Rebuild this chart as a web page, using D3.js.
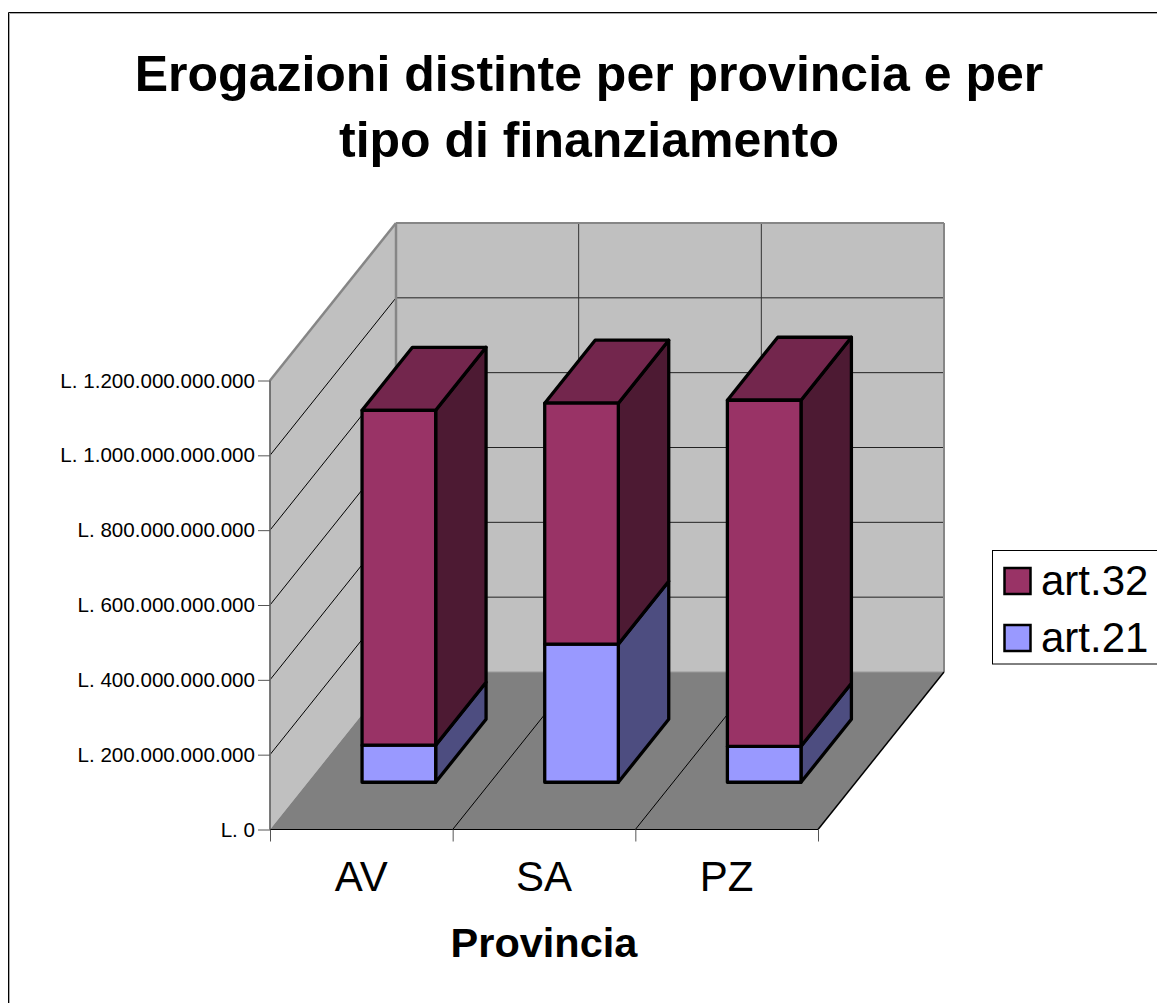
<!DOCTYPE html>
<html><head>
<meta charset="utf-8">
<title>Erogazioni distinte per provincia e per tipo di finanziamento</title>
<style>
  html, body { margin: 0; padding: 0; background: #fff; overflow: hidden; }
  svg { display: block; }
  text { font-family: "Liberation Sans", Arial, sans-serif; fill: #000; }
</style>
<script src="https://d3js.org/d3.v7.min.js"></script>
</head>
<body>
<div id="chart"></div>
<script>
const titleLines = ["Erogazioni distinte per provincia e per", "tipo di finanziamento"];
const xTitle = "Provincia";
const province = ["AV", "SA", "PZ"];
const art21 = [99e9, 369e9, 96e9];
const art32 = [895e9, 644e9, 925e9];
const yTicks = [0, 200e9, 400e9, 600e9, 800e9, 1000e9, 1200e9];
const legendItems = ["art.32", "art.21"];

const width = 1157, height = 1003;

const svg = d3.select("#chart").append("svg")
  .attr("width", width)
  .attr("height", height);

// frame, only top and left show in the picture
svg.append("path").attr("d", "M9.5,1003V13.5H1157").attr("fill", "none").attr("stroke", "#aaa").attr("stroke-width", 1);
svg.append("path").attr("d", "M8.5,1003V12.5H1157").attr("fill", "none").attr("stroke", "#000").attr("stroke-width", 1);

// front plane scales, depth is added on top by project()
const x = d3.scaleLinear().domain([0, province.length]).range([270, 818]);
const y = d3.scaleLinear().domain([0, 1200e9]).range([829.5, 380.5]);
const depthX = d3.scaleLinear().domain([0, 1]).range([0, 126]);
const depthY = d3.scaleLinear().domain([0, 1]).range([0, -157.5]);

function project(i, v, z) {
  return [x(i) + depthX(z), y(v) + depthY(z)];
}
function poly(g, pts, fill, stroke, sw) {
  g.append("polygon")
    .attr("points", pts.map(p => p.join(",")).join(" "))
    .attr("fill", fill)
    .attr("stroke", stroke || "none")
    .attr("stroke-width", sw || 0)
    .attr("stroke-linejoin", "round");
}

const n = province.length, yMax = yTicks[yTicks.length - 1];
const walls = svg.append("g");

// walls and floor
poly(walls, [project(0, 0, 0), project(0, yMax, 0), project(0, yMax, 1), project(0, 0, 1)], "#c0c0c0");
poly(walls, [project(0, 0, 1), project(0, yMax, 1), project(n, yMax, 1), project(n, 0, 1)], "#c0c0c0");
poly(walls, [project(0, 0, 0), project(0, 0, 1), project(n, 0, 1), project(n, 0, 0)], "#808080");

// gridlines
function seg(a, b, stroke, sw) {
  walls.append("line")
    .attr("x1", a[0]).attr("y1", a[1]).attr("x2", b[0]).attr("y2", b[1])
    .attr("stroke", stroke).attr("stroke-width", sw);
}
yTicks.slice(1, -1).forEach(t => {
  seg(project(0, t, 0), project(0, t, 1), "#000", 1);
  seg(project(0, t, 1), project(n, t, 1), "#222", 1);
});
d3.range(1, n).forEach(i => {
  seg(project(i, 0, 0), project(i, 0, 1), "#000", 1);
  seg(project(i, 0, 1), project(i, yMax, 1), "#333", 1);
});

// wall outlines
const grey = "#868686";
seg(project(0, yMax, 0), project(0, yMax, 1), grey, 2.5);
seg(project(0, yMax, 1), project(n, yMax, 1), grey, 2);
seg(project(0, 0, 1), project(0, yMax, 1), grey, 2.5);
seg(project(n, yMax, 1), project(n, 0, 1), grey, 2);
seg(project(0, 0, 1), project(n, 0, 1), "#999", 1);
seg(project(0, 0, 0), project(0, yMax, 0), "#808080", 1.5);
seg(project(n, 0, 0), project(n, 0, 1), "#000", 1.5);

// axes
const axisG = svg.append("g");
const yAxis = d3.axisLeft(y)
  .tickValues(yTicks)
  .tickSize(12)
  .tickPadding(3)
  .tickFormat(d => "L. " + d3.format(",.0f")(d).replace(/,/g, "."));
axisG.append("g")
  .attr("transform", "translate(270,0)")
  .call(yAxis)
  .call(g => g.select(".domain").attr("stroke", "#555").attr("d", "M0,380.5V829.5"))
  .call(g => g.selectAll("text").attr("font-size", 20.6).attr("font-family", '"Liberation Sans", Arial, sans-serif'))
  .call(g => g.selectAll("line").attr("stroke", "#555"));

const xAxis = d3.axisBottom(x)
  .tickValues(d3.range(0, n + 1))
  .tickSize(12)
  .tickFormat("");
axisG.append("g")
  .attr("transform", "translate(0,829.5)")
  .call(xAxis)
  .call(g => g.select(".domain").attr("stroke", "#000").attr("d", "M270,0H818"))
  .call(g => g.selectAll("line").attr("stroke", "#555"));

svg.append("g").selectAll("text").data(province).join("text")
  .attr("x", (d, i) => x(i + 0.5))
  .attr("y", 891)
  .attr("text-anchor", "middle")
  .attr("font-size", 42)
  .text(d => d);

// stacked bars, drawn back to front
const barL = 0.297, barR = 0.70, zFront = 0.30, zBack = 0.70;
const bars = svg.append("g");
const black = "#000", lw = 3.3;

function drawBox(i, v0, v1, front, side, roof) {
  const l = i + barL, r = i + barR;
  poly(bars, [project(r, v0, zFront), project(r, v1, zFront), project(r, v1, zBack), project(r, v0, zBack)], side, black, lw);
  if (roof) {
    poly(bars, [project(l, v1, zFront), project(l, v1, zBack), project(r, v1, zBack), project(r, v1, zFront)], roof, black, lw);
  }
  poly(bars, [project(l, v0, zFront), project(l, v1, zFront), project(r, v1, zFront), project(r, v0, zFront)], front, black, lw);
}
province.forEach((p, i) => {
  drawBox(i, 0, art21[i], "#9999ff", "#4d4d80");
  drawBox(i, art21[i], art21[i] + art32[i], "#993366", "#4d1a33", "#73264d");
});

// titles
svg.append("g").selectAll("text").data(titleLines).join("text")
  .attr("x", 589)
  .attr("y", (d, i) => 91 + i * 66)
  .attr("text-anchor", "middle")
  .attr("font-size", 50)
  .attr("font-weight", "bold")
  .text(d => d);

svg.append("text")
  .attr("x", 544)
  .attr("y", 957)
  .attr("text-anchor", "middle")
  .attr("font-size", 41.5)
  .attr("font-weight", "bold")
  .text(xTitle);

// legend
const legendColors = d3.scaleOrdinal().domain(legendItems).range(["#993366", "#9999ff"]);
const legendY = d3.scalePoint().domain(legendItems).range([581, 638]);
svg.append("rect")
  .attr("x", 992.5).attr("y", 550.5)
  .attr("width", 170).attr("height", 113.5)
  .attr("fill", "#fff").attr("stroke", "#000").attr("stroke-width", 1);
const legend = svg.append("g").selectAll("g").data(legendItems).join("g")
  .attr("transform", d => `translate(0,${legendY(d)})`);
legend.append("rect")
  .attr("x", 1004.5).attr("y", -13)
  .attr("width", 26).attr("height", 26)
  .attr("fill", d => legendColors(d))
  .attr("stroke", "#000").attr("stroke-width", 2.5);
legend.append("text")
  .attr("x", 1041).attr("y", 14)
  .attr("font-size", 42)
  .text(d => d);
</script>
</body></html>
